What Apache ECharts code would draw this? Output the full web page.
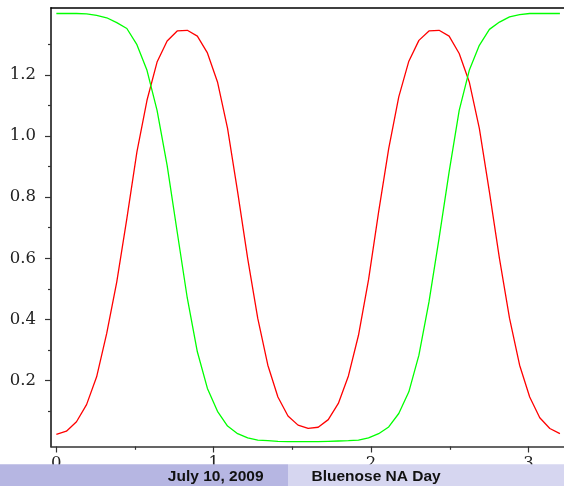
<!DOCTYPE html>
<html>
<head>
<meta charset="utf-8">
<title>Bluenose NA Day</title>
<script src="https://cdn.jsdelivr.net/npm/echarts@6/dist/echarts.min.js"></script>
<style>
  html, body { margin: 0; padding: 0; background: #fff; }
  #chart { width: 564px; height: 486px; }
</style>
</head>
<body>
<div id="chart"></div>
<script>
// sample points along x (51 samples)
const xs = [
  0, 0.064, 0.128, 0.192, 0.256, 0.32, 0.384, 0.448, 0.512, 0.576,
  0.64, 0.704, 0.768, 0.832, 0.896, 0.96, 1.024, 1.088, 1.152, 1.216,
  1.28, 1.344, 1.408, 1.472, 1.536, 1.6, 1.664, 1.728, 1.792, 1.856,
  1.92, 1.984, 2.048, 2.112, 2.176, 2.24, 2.304, 2.368, 2.432, 2.496,
  2.56, 2.624, 2.688, 2.752, 2.816, 2.88, 2.944, 3.008, 3.072, 3.136,
  3.2
];

// red curve
const redVals = [
  0.024, 0.034, 0.065, 0.121, 0.212, 0.354, 0.523, 0.730, 0.948, 1.117,
  1.242, 1.311, 1.344, 1.346, 1.327, 1.272, 1.177, 1.025, 0.817, 0.599,
  0.403, 0.250, 0.146, 0.084, 0.054, 0.043, 0.047, 0.072, 0.125, 0.215,
  0.348, 0.530, 0.752, 0.959, 1.128, 1.245, 1.313, 1.344, 1.346, 1.327,
  1.270, 1.177, 1.025, 0.817, 0.599, 0.403, 0.250, 0.146, 0.078, 0.043,
  0.026
];

// green curve
const greenVals = [
  1.401, 1.401, 1.401, 1.400, 1.395, 1.387, 1.371, 1.352, 1.299, 1.215,
  1.084, 0.904, 0.686, 0.470, 0.294, 0.174, 0.099, 0.051, 0.026, 0.012,
  0.005, 0.003, 0.001, 0.000, 0.000, 0.000, 0.000, 0.001, 0.002, 0.003,
  0.005, 0.012, 0.026, 0.048, 0.092, 0.163, 0.283, 0.457, 0.665, 0.883,
  1.084, 1.215, 1.297, 1.349, 1.373, 1.390, 1.397, 1.401, 1.401, 1.401,
  1.401
];

// ticks and labels
const xLabelTicks = [0, 1, 2, 3];
const xMinorTicks = [0.5, 1.5, 2.5];
const yLabelTicks = [0.2, 0.4, 0.6, 0.8, 1.0, 1.2];
const yMinorTicks = [0.1, 0.3, 0.5, 0.7, 0.9, 1.1, 1.3];

// footer bar texts
const footerDate = "July 10, 2009";
const footerTitle = "Bluenose NA Day";

const X_MIN = -0.034, X_MAX = 3.226;
const Y_MIN = -0.016, Y_MAX = 1.419;
const axisColor = "#333";
const serif = '"DejaVu Serif", serif';

const chart = echarts.init(document.getElementById("chart"));

const option = {
  animation: false,
  backgroundColor: "#fff",
  grid: { left: 51, top: 8, right: 0, bottom: 39.5 },
  xAxis: [
    {
      // main bottom axis: line, long ticks, labels
      type: "value",
      position: "bottom",
      min: X_MIN,
      max: X_MAX,
      splitLine: { show: false },
      axisLine: { show: true, onZero: false, lineStyle: { color: axisColor, width: 1.5 } },
      axisTick: { show: true, length: 6, customValues: xLabelTicks, lineStyle: { color: axisColor, width: 1.2 } },
      axisLabel: {
        customValues: xLabelTicks,
        margin: 9,
        color: "#222",
        fontFamily: serif,
        fontSize: 16.5,
      },
    },
    {
      // short ticks at the halves
      type: "value",
      position: "bottom",
      min: X_MIN,
      max: X_MAX,
      splitLine: { show: false },
      axisLine: { show: false, onZero: false },
      axisTick: { show: true, length: 3.3, customValues: xMinorTicks, lineStyle: { color: axisColor, width: 1.2 } },
      axisLabel: { show: false },
    },
    {
      // top frame line
      type: "value",
      position: "top",
      min: X_MIN,
      max: X_MAX,
      splitLine: { show: false },
      axisLine: { show: true, onZero: false, lineStyle: { color: "#000", width: 1.5 } },
      axisTick: { show: false },
      axisLabel: { show: false },
    },
  ],
  yAxis: [
    {
      type: "value",
      position: "left",
      min: Y_MIN,
      max: Y_MAX,
      splitLine: { show: false },
      axisLine: { show: true, onZero: false, lineStyle: { color: axisColor, width: 1.8 } },
      axisTick: { show: true, length: 6, customValues: yLabelTicks, lineStyle: { color: axisColor, width: 1.2 } },
      axisLabel: {
        customValues: yLabelTicks,
        formatter: (v) => v.toFixed(1),
        margin: 15,
        color: "#222",
        fontFamily: serif,
        fontSize: 16.5,
      },
    },
    {
      type: "value",
      position: "left",
      min: Y_MIN,
      max: Y_MAX,
      splitLine: { show: false },
      axisLine: { show: false, onZero: false },
      axisTick: { show: true, length: 3, customValues: yMinorTicks, lineStyle: { color: axisColor, width: 1.2 } },
      axisLabel: { show: false },
    },
  ],
  series: [
    {
      name: "red",
      type: "line",
      xAxisIndex: 0,
      yAxisIndex: 0,
      showSymbol: false,
      data: xs.map((x, i) => [x, redVals[i]]),
      lineStyle: { color: "#ff0000", width: 1.3 },
      itemStyle: { color: "#ff0000" },
    },
    {
      name: "green",
      type: "line",
      xAxisIndex: 0,
      yAxisIndex: 0,
      showSymbol: false,
      data: xs.map((x, i) => [x, greenVals[i]]),
      lineStyle: { color: "#00ff00", width: 1.3 },
      itemStyle: { color: "#00ff00" },
    },
  ],
  // beamer footer, drawn over the bottom of the x labels
  graphic: [
    {
      type: "rect",
      z: 100,
      shape: { x: 0, y: 464.3, width: 288, height: 22 },
      style: { fill: "#b6b6e2" },
    },
    {
      type: "rect",
      z: 100,
      shape: { x: 288, y: 464.3, width: 276, height: 22 },
      style: { fill: "#d6d6f0" },
    },
    {
      type: "text",
      z: 101,
      style: {
        text: footerDate,
        x: 263.5,
        y: 476.5,
        textAlign: "right",
        textVerticalAlign: "middle",
        font: 'bold 15.5px "Liberation Sans", sans-serif',
        fill: "#111",
      },
    },
    {
      type: "text",
      z: 101,
      style: {
        text: footerTitle,
        x: 311.5,
        y: 476.5,
        textAlign: "left",
        textVerticalAlign: "middle",
        font: 'bold 15.5px "Liberation Sans", sans-serif',
        fill: "#111",
      },
    },
  ],
};

chart.setOption(option);
</script>
</body>
</html>
